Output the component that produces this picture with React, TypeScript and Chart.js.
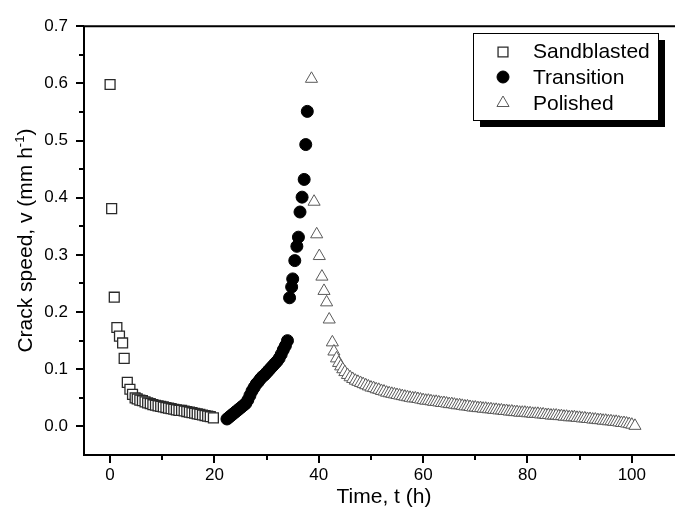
import React, { useEffect, useRef } from 'react';
import { Chart, registerables } from 'chart.js';

Chart.register(...registerables);

const seriesNames = ['Sandblasted', 'Transition', 'Polished'];

// [time (h), crack speed (mm/h)]
const sandblasted: [number, number][] = [
  [0.0, 0.598], [0.3, 0.381], [0.8, 0.226], [1.3, 0.173], [1.8, 0.158], [2.4, 0.146],
  [2.7, 0.119], [3.3, 0.077], [3.8, 0.065], [4.3, 0.056], [4.8, 0.050], [5.2, 0.048],
  [5.7, 0.046], [6.2, 0.045], [6.7, 0.043], [7.2, 0.041], [7.7, 0.040], [8.2, 0.038],
  [8.7, 0.037], [9.2, 0.036], [9.7, 0.035], [10.2, 0.034], [10.7, 0.033], [11.2, 0.032],
  [11.7, 0.031], [12.2, 0.030], [12.7, 0.029], [13.2, 0.028], [13.7, 0.028], [14.2, 0.027],
  [14.7, 0.026], [15.2, 0.025], [15.7, 0.024], [16.2, 0.023], [16.7, 0.022], [17.2, 0.021],
  [17.7, 0.020], [18.2, 0.019], [18.7, 0.018], [19.2, 0.017], [19.8, 0.015],
];

const transition: [number, number][] = [
  [22.4, 0.013], [22.8, 0.016], [23.2, 0.019], [23.6, 0.022], [24.0, 0.025], [24.4, 0.028],
  [24.8, 0.031], [25.2, 0.034], [25.6, 0.037], [26.0, 0.040], [26.4, 0.046], [26.8, 0.054],
  [27.2, 0.062], [27.6, 0.068], [28.0, 0.074], [28.4, 0.078], [28.8, 0.083], [29.2, 0.087],
  [29.6, 0.090], [30.0, 0.094], [30.4, 0.098], [30.8, 0.102], [31.2, 0.106], [31.6, 0.110],
  [32.0, 0.114], [32.4, 0.119], [32.8, 0.126], [33.2, 0.134], [33.6, 0.141], [34.0, 0.150],
  [34.4, 0.225], [34.8, 0.244], [35.0, 0.258], [35.4, 0.290], [35.8, 0.315], [36.1, 0.331],
  [36.4, 0.375], [36.8, 0.401], [37.2, 0.432], [37.5, 0.493], [37.8, 0.551],
];

const polished: [number, number][] = [
  [38.6, 0.608], [39.1, 0.393], [39.6, 0.336], [40.1, 0.298], [40.6, 0.262], [41.0, 0.237],
  [41.5, 0.217], [42.0, 0.187], [42.6, 0.147], [42.9, 0.131], [43.4, 0.119], [43.8, 0.111],
  [44.2, 0.105], [44.6, 0.100], [45.0, 0.095], [45.5, 0.090], [46.0, 0.086], [46.5, 0.083],
  [47.0, 0.080], [47.5, 0.078], [48.0, 0.076], [48.5, 0.074], [49.0, 0.072], [49.5, 0.070],
  [50.0, 0.068], [50.5, 0.067], [51.0, 0.065], [51.5, 0.064], [52.0, 0.062], [52.5, 0.061],
  [53.0, 0.059], [53.5, 0.058], [54.0, 0.057], [54.5, 0.056], [55.0, 0.055], [55.5, 0.054],
  [56.0, 0.053], [56.5, 0.052], [57.0, 0.051], [57.5, 0.050], [58.0, 0.049], [58.5, 0.049],
  [59.0, 0.048], [59.5, 0.047], [60.0, 0.046], [60.5, 0.045], [61.0, 0.045], [61.5, 0.044],
  [62.0, 0.043], [62.5, 0.043], [63.0, 0.042], [63.5, 0.041], [64.0, 0.041], [64.5, 0.040],
  [65.0, 0.039], [65.5, 0.039], [66.0, 0.038], [66.5, 0.037], [67.0, 0.037], [67.5, 0.036],
  [68.0, 0.035], [68.5, 0.035], [69.0, 0.034], [69.5, 0.033], [70.0, 0.033], [70.5, 0.032],
  [71.0, 0.032], [71.5, 0.031], [72.0, 0.031], [72.5, 0.030], [73.0, 0.030], [73.5, 0.029],
  [74.0, 0.029], [74.5, 0.028], [75.0, 0.028], [75.5, 0.027], [76.0, 0.027], [76.5, 0.026],
  [77.0, 0.026], [77.5, 0.025], [78.0, 0.025], [78.5, 0.024], [79.0, 0.024], [79.5, 0.024],
  [80.0, 0.023], [80.5, 0.023], [81.0, 0.022], [81.5, 0.022], [82.0, 0.022], [82.5, 0.021],
  [83.0, 0.021], [83.5, 0.020], [84.0, 0.020], [84.5, 0.019], [85.0, 0.019], [85.5, 0.019],
  [86.0, 0.018], [86.5, 0.018], [87.0, 0.017], [87.5, 0.017], [88.0, 0.016], [88.5, 0.016],
  [89.0, 0.016], [89.5, 0.015], [90.0, 0.015], [90.5, 0.014], [91.0, 0.014], [91.5, 0.013],
  [92.0, 0.013], [92.5, 0.012], [93.0, 0.012], [93.5, 0.011], [94.0, 0.011], [94.5, 0.010],
  [95.0, 0.010], [95.5, 0.009], [96.0, 0.009], [96.5, 0.008], [97.0, 0.008], [97.5, 0.007],
  [98.0, 0.006], [98.5, 0.006], [99.0, 0.005], [99.5, 0.004], [100.0, 0.003], [100.6, 0.001],
];

const xTicks = [0, 10, 20, 30, 40, 50, 60, 70, 80, 90, 100, 110];
const xLabelTicks = [0, 20, 40, 60, 80, 100];
const yTicks = [-0.05, 0, 0.05, 0.1, 0.15, 0.2, 0.25, 0.3, 0.35, 0.4, 0.45, 0.5, 0.55, 0.6, 0.65, 0.7];
const yLabelTicks = [0, 0.1, 0.2, 0.3, 0.4, 0.5, 0.6, 0.7];

const xTitle = 'Time, t (h)';
const yTitleMain = 'Crack speed, v (mm h';
const yTitleSup = '-1';
const yTitleEnd = ')';

const FONT = '"Liberation Sans", Arial, Helvetica, sans-serif';

const styles = [
  { pointStyle: 'rect', radius: 7, fill: '#ffffff', stroke: '#2a2a2a', lw: 1.3 },
  { pointStyle: 'circle', radius: 6, fill: '#000000', stroke: '#000000', lw: 1 },
  { pointStyle: 'triangle', radius: 7, fill: '#ffffff', stroke: '#5a5a5a', lw: 1 },
];

function drawMarker(ctx: CanvasRenderingContext2D, style: string, x: number, y: number, r: number) {
  ctx.beginPath();
  if (style === 'rect') {
    const s = Math.SQRT1_2 * r;
    ctx.rect(x - s, y - s, 2 * s, 2 * s);
  } else if (style === 'circle') {
    ctx.arc(x, y, r, 0, Math.PI * 2);
  } else {
    let rad = 0;
    ctx.moveTo(x + Math.sin(rad) * r, y - Math.cos(rad) * r);
    rad += (2 * Math.PI) / 3;
    ctx.lineTo(x + Math.sin(rad) * r, y - Math.cos(rad) * r);
    rad += (2 * Math.PI) / 3;
    ctx.lineTo(x + Math.sin(rad) * r, y - Math.cos(rad) * r);
    ctx.closePath();
  }
  ctx.fill();
  ctx.stroke();
}

const near = (a: number, list: number[]) => list.some((b) => Math.abs(a - b) < 1e-6);

export default function App() {
  const canvasRef = useRef<HTMLCanvasElement | null>(null);

  useEffect(() => {
    const canvas = canvasRef.current;
    if (!canvas) return;

    const decorPlugin = {
      id: 'decor',
      afterDraw(chart: any) {
        const { ctx, chartArea: a, scales } = chart;
        const xs = scales.x;
        const ys = scales.y;
        ctx.save();
        // frame
        ctx.strokeStyle = '#000';
        ctx.lineWidth = 2;
        ctx.beginPath();
        ctx.moveTo(a.left - 1, a.top);
        ctx.lineTo(a.right + 1, a.top);
        ctx.moveTo(a.left, a.top - 1);
        ctx.lineTo(a.left, a.bottom + 1);
        ctx.moveTo(a.left - 1, a.bottom);
        ctx.lineTo(a.right + 1, a.bottom);
        ctx.stroke();
        // ticks
        ctx.beginPath();
        for (const v of xTicks) {
          const px = Math.round(xs.getPixelForValue(v));
          const len = near(v, xLabelTicks) ? 8 : 5;
          ctx.moveTo(px, a.bottom);
          ctx.lineTo(px, a.bottom + len);
        }
        for (const v of yTicks) {
          const py = Math.round(ys.getPixelForValue(v));
          if (py >= a.bottom - 1) continue;
          const len = near(v, yLabelTicks) ? 8 : 5;
          ctx.moveTo(a.left, py);
          ctx.lineTo(a.left - len, py);
        }
        ctx.stroke();

        // y title with superscript
        ctx.fillStyle = '#000';
        ctx.textBaseline = 'alphabetic';
        ctx.textAlign = 'left';
        const mainFont = `21px ${FONT}`;
        const supFont = `13px ${FONT}`;
        ctx.font = mainFont;
        const w1 = ctx.measureText(yTitleMain).width;
        const w3 = ctx.measureText(yTitleEnd).width;
        ctx.font = supFont;
        const w2 = ctx.measureText(yTitleSup).width;
        const total = w1 + w2 + w3;
        const cy = (a.top + a.bottom) / 2;
        ctx.translate(32, cy + total / 2);
        ctx.rotate(-Math.PI / 2);
        ctx.font = mainFont;
        ctx.fillText(yTitleMain, 0, 0);
        ctx.font = supFont;
        ctx.fillText(yTitleSup, w1, -8);
        ctx.font = mainFont;
        ctx.fillText(yTitleEnd, w1 + w2, 0);
        ctx.setTransform(1, 0, 0, 1, 0, 0);

        // legend with drop shadow
        const bx = 473, by = 33, bw = 185, bh = 87, sh = 7;
        ctx.fillStyle = '#000';
        ctx.fillRect(bx + sh, by + sh, bw, bh);
        ctx.fillStyle = '#fff';
        ctx.fillRect(bx, by, bw, bh);
        ctx.strokeStyle = '#000';
        ctx.lineWidth = 1;
        ctx.strokeRect(bx + 0.5, by + 0.5, bw, bh);
        const rowsBase = [58, 84, 110];
        const markerY = [52, 77, 103];
        ctx.font = `21px ${FONT}`;
        ctx.textBaseline = 'alphabetic';
        for (let i = 0; i < seriesNames.length; i++) {
          const st = styles[i];
          ctx.fillStyle = st.fill;
          ctx.strokeStyle = st.stroke;
          ctx.lineWidth = st.lw;
          drawMarker(ctx, st.pointStyle, 503, markerY[i], i === 1 ? 6 : st.radius);
          ctx.fillStyle = '#000';
          ctx.fillText(seriesNames[i], 533, rowsBase[i]);
        }
        ctx.restore();
      },
    };

    const series = [sandblasted, transition, polished];
    const chart = new Chart(canvas, {
      type: 'scatter',
      data: {
        datasets: series.map((d, i) => ({
          label: seriesNames[i],
          data: d.map(([x, y]) => ({ x, y })),
          pointStyle: styles[i].pointStyle as any,
          pointRadius: styles[i].radius,
          pointBackgroundColor: styles[i].fill,
          pointBorderColor: styles[i].stroke,
          pointBorderWidth: styles[i].lw,
          showLine: false,
        })),
      },
      options: {
        animation: false,
        responsive: false,
        devicePixelRatio: 1,
        events: [],
        layout: { padding: { top: 20, right: 16, bottom: 0, left: 0 } },
        plugins: {
          legend: { display: false },
          tooltip: { enabled: false },
        },
        scales: {
          x: {
            type: 'linear',
            min: -5,
            max: 110,
            grid: { display: false, drawTicks: false },
            border: { display: false },
            afterBuildTicks: (s: any) => {
              s.ticks = xTicks.map((v) => ({ value: v }));
            },
            afterFit: (s: any) => {
              s.height = 66;
            },
            ticks: {
              autoSkip: false,
              maxRotation: 0,
              padding: 10,
              color: '#000',
              font: { family: FONT, size: 17 },
              callback: (v: any) => (near(Number(v), xLabelTicks) ? String(v) : ''),
            },
            title: {
              display: true,
              text: xTitle,
              color: '#000',
              font: { family: FONT, size: 21 },
              padding: { top: 0, bottom: 11 },
            },
          },
          y: {
            type: 'linear',
            min: -0.05,
            max: 0.7,
            grid: { display: false, drawTicks: false },
            border: { display: false },
            afterBuildTicks: (s: any) => {
              s.ticks = yTicks.map((v) => ({ value: v }));
            },
            afterFit: (s: any) => {
              s.width = 84;
            },
            ticks: {
              autoSkip: false,
              padding: 16,
              color: '#000',
              font: { family: FONT, size: 17 },
              callback: (v: any) => (near(Number(v), yLabelTicks) ? Number(v).toFixed(1) : ''),
            },
          },
        },
      },
      plugins: [decorPlugin],
    });

    return () => chart.destroy();
  }, []);

  return (
    <div
      style={{
        position: 'fixed',
        left: 0,
        top: 0,
        width: 675,
        height: 521,
        overflow: 'hidden',
        background: '#fff',
      }}
    >
      <canvas ref={canvasRef} width={700} height={521} style={{ display: 'block', width: 700, height: 521 }} />
    </div>
  );
}
